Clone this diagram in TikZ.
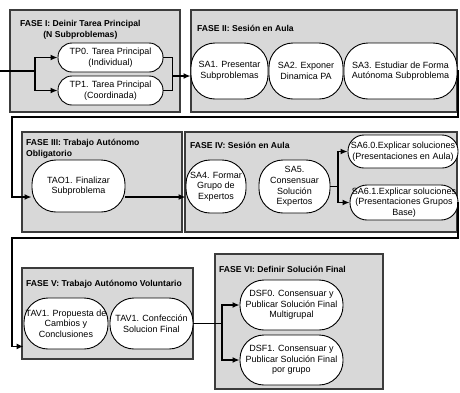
\documentclass[tikz,border=0pt]{standalone}
\usepackage{fontspec}
\setmainfont{Liberation Sans}
\usetikzlibrary{arrows.meta,calc}
\definecolor{phasefill}{RGB}{216,216,216}
\definecolor{phaseline}{RGB}{60,60,60}
\tikzset{
  phase/.style={draw=phaseline, fill=phasefill, line width=1.1pt},
  phasetitle/.style={font=\fontsize{8.6}{11}\selectfont\bfseries, inner sep=0pt, align=left},
  stage/.style={draw, fill=white, line width=0.9pt, rounded corners=14pt, align=center,
    inner sep=0pt, font=\fontsize{9}{10.6}\selectfont},
  tallstage/.style={stage, rounded corners=24pt},
  wire/.style={line width=1.4pt},
  conn/.style={wire, -{Latex[length=7pt,width=6pt]}},
}

\begin{document}
\begin{tikzpicture}[x=1pt,y=-1pt]
			%%%%% START %%%%%
			\useasboundingbox (0,0) rectangle (460,392);
			
			% fases
			\draw[phase] (10,10) rectangle (180,112);
			\draw[phase] (191,10) rectangle (457,112);
			\draw[phase] (22,132) rectangle (182,232);
			\draw[phase] (185,132) rectangle (457,232);
			\draw[phase] (22,268) rectangle (193,359);
			\draw[phase] (215,254) rectangle (383,389);
			
			\node[phasetitle, align=center, anchor=north west] (t1) at (20,19.8) {FASE I: Deinir Tarea Principal\\(N Subproblemas)};
			\node[phasetitle, anchor=base west] (t2) at (197,31) {FASE II: Sesión en Aula};
			\node[phasetitle, anchor=north west] (t3) at (26,138.5) {FASE III: Trabajo Autónomo\\Obligatorio};
			\node[phasetitle, anchor=base west] (t4) at (190,148) {FASE IV: Sesión en Aula};
			\node[phasetitle, anchor=base west] (t5) at (26,286) {FASE V: Trabajo Autónomo Voluntario};
			\node[phasetitle, anchor=base west] (t6) at (219,272) {FASE VI: Definir Solución Final};
			
			% tareas
			\node[stage, minimum width=105pt, minimum height=29pt] (tp0) at (110.5,57.5) {TP0. Tarea Principal\\(Individual)};
			\node[stage, minimum width=105pt, minimum height=29pt] (tp1) at (110.5,90.5) {TP1. Tarea Principal\\(Coordinada)};
			
			\node[tallstage, minimum width=77pt, minimum height=56pt] (sa1) at (229.5,71) {SA1. Presentar\\Subproblemas};
			\node[tallstage, minimum width=74pt, minimum height=56pt] (sa2) at (306,71) {SA2. Exponer\\Dinamica PA};
			\node[tallstage, minimum width=113pt, minimum height=56pt] (sa3) at (400.5,71) {SA3. Estudiar de Forma\\Autónoma Subproblema};
			
			\node[tallstage, minimum width=93pt, minimum height=52pt] (tao1) at (78.5,186) {TAO1. Finalizar\\Subproblema};
			\node[tallstage, minimum width=60pt, minimum height=53pt] (sa4) at (216,186.5) {SA4. Formar\\Grupo de\\Expertos};
			\node[tallstage, minimum width=71pt, minimum height=53pt] (sa5) at (294.5,186.5) {SA5.\\Consensuar\\Solución\\Expertos};
			\node[stage, rounded corners=16pt, minimum width=110pt, minimum height=33pt] (sa60) at (403,151.5) {SA6.0.Explicar soluciones\\(Presentaciones en Aula)};
			\node[stage, rounded corners=17pt, minimum width=108pt, minimum height=35pt] (sa61) at (404,202.5) {SA6.1.Explicar soluciones\\(Presentaciones Grupos\\Base)};
			
			\node[tallstage, minimum width=84pt, minimum height=51pt] (tav1a) at (66,323.5) {TAV1. Propuesta de\\Cambios y\\Conclusiones};
			\node[tallstage, minimum width=83pt, minimum height=51pt] (tav1b) at (151.5,323.5) {TAV1. Confección\\Solucion Final};
			
			\node[tallstage, minimum width=103pt, minimum height=50pt] (dsf0) at (291.5,305) {DSF0. Consensuar y\\Publicar Solución Final\\Multigrupal};
			\node[tallstage, minimum width=103pt, minimum height=50pt] (dsf1) at (291.5,360) {DSF1. Consensuar y\\Publicar Solución Final\\por grupo};
			
			% conectores
			\coordinate (in0) at (0,71);
			\coordinate (jn0) at (35,71);
			\draw[wire] (in0) -- (jn0);
			\draw[conn] (jn0) |- (tp0.west);
			\draw[conn] (jn0) |- (tp1.west);
			\draw[wire] (tp0.east) -- ++(9,0) |- (tp1.east);
			\coordinate (jn1) at (172,76);
			\draw[conn] (jn1) -- (jn1 -| sa1.west);
			
			\coordinate (rt1) at (458,117);
			\coordinate (lf1) at (12,117);
			\draw[conn] (sa3.east) -| (rt1) -- (lf1) |- ($(tao1.west)+(0,11)$);
			\draw[conn] ($(tao1.east)+(0,11)$) -- ($(sa4.west)+(0,10.5)$);
			
			\coordinate (jn2) at (338,186.5);
			\draw[wire] (sa5.east) -- (jn2);
			\draw[conn] (jn2) |- (sa60.west);
			\draw[conn] (jn2) |- (sa61.west);
			
			\coordinate (rt2) at (458,238);
			\coordinate (lf2) at (12,238);
			\draw[conn] (sa61.east) -| (rt2) -- (lf2) |- ($(tav1a.south west)+(0,-3)$);
			
			\coordinate (jn3) at (222,323.5);
			\draw[wire] (tav1b.east) -- (jn3);
			\draw[conn] (jn3) |- (dsf0.west);
			\draw[conn] (jn3) |- (dsf1.west);
			
			%%%%% END %%%%%
\end{tikzpicture}
\end{document}
